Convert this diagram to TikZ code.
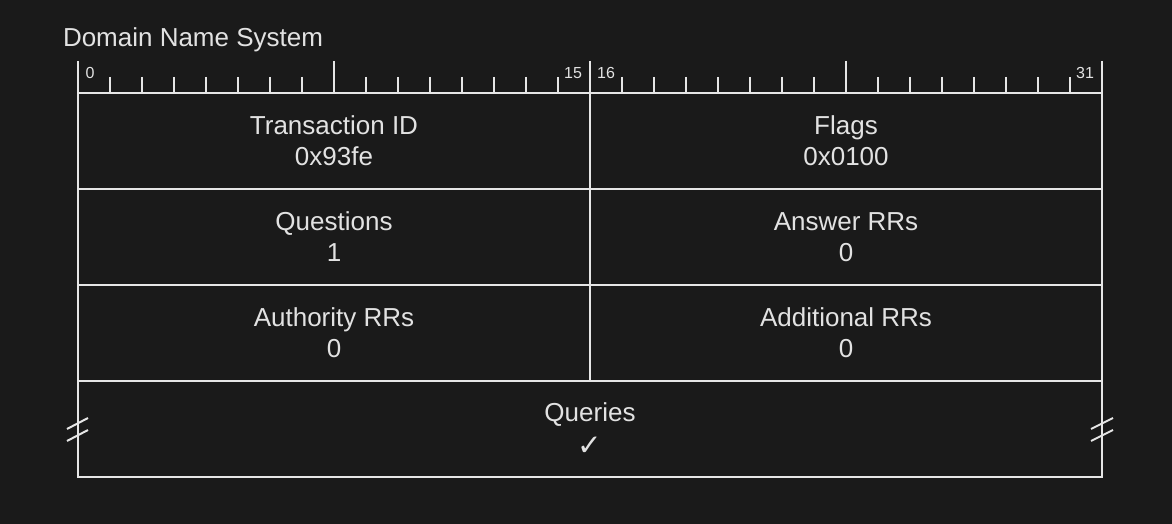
\documentclass[tikz,border=0pt]{standalone}
\usepackage{fontspec}
\setmainfont{Liberation Sans}
\newfontfamily\symfont{DejaVu Sans}
\usetikzlibrary{positioning}
\definecolor{bgdark}{HTML}{1A1A1A}
\definecolor{fgline}{HTML}{E6E6E6}
\definecolor{fgtext}{HTML}{E2E2E2}

\begin{document}
\begin{tikzpicture}[x=0.75pt, y=-0.75pt, line width=1.5pt,
    field/.style={draw=fgline, text=fgtext, minimum width=384pt, minimum height=72pt,
      inner sep=0pt, align=center, font=\fontsize{19.5}{23.25}\selectfont},
    bitnum/.style={text=fgtext, inner sep=0pt, font=\fontsize{12}{14}\selectfont}]

    % Background
    \fill[bgdark] (0,0) rectangle (1172,524);
    \useasboundingbox (0,0) rectangle (1172,524);

    % Title
    \node[anchor=base west, inner sep=0pt, text=fgtext, font=\fontsize{19.5}{23}\selectfont] (title) at (62,47) {Domain Name System};

    % Bit ruler
    \foreach \i in {1,...,31}
        \draw[fgline] (78+\i*32,77) -- (78+\i*32,93);
    \foreach \i in {0,8,16,24,32}
        \draw[fgline] (78+\i*32,61) -- (78+\i*32,93);

    \node[bitnum] (b0) at (90,73) {0};
    \node[bitnum] (b15) at (573,73) {15};
    \node[bitnum] (b16) at (606,73) {16};
    \node[bitnum] (b31) at (1085,73) {31};

    % Header fields
    \node[field] (tid) at (334,141) {Transaction ID\\0x93fe};
    \node[field] (flags) at (846,141) {Flags\\0x0100};
    \node[field] (qdcount) at (334,237) {Questions\\1};
    \node[field] (ancount) at (846,237) {Answer RRs\\0};
    \node[field] (nscount) at (334,333) {Authority RRs\\0};
    \node[field] (arcount) at (846,333) {Additional RRs\\0};
    \node[field, minimum width=768pt] (queries) at (590,429) {Queries\\[2pt]{\symfont\fontsize{22}{23.25}\selectfont ✓}};

    % Break marks
    \draw[fgline] (67,429) -- (88,418);
    \draw[fgline] (67,441) -- (88,430);
    \draw[fgline] (1091,429) -- (1113,418);
    \draw[fgline] (1091,441) -- (1113,430);

\end{tikzpicture}
\end{document}
